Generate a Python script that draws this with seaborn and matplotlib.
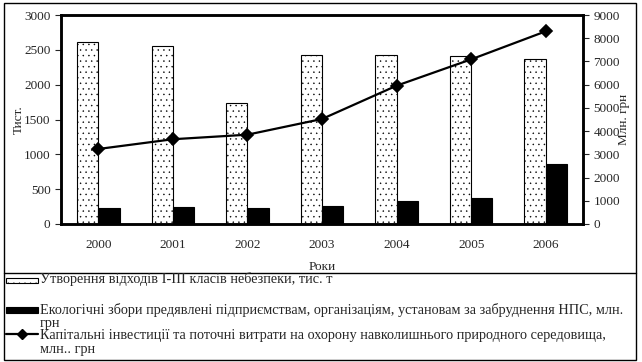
import numpy as np
import pandas as pd
import matplotlib
matplotlib.use("Agg")
import matplotlib.pyplot as plt
import seaborn as sns
from matplotlib.patches import Rectangle
from matplotlib.lines import Line2D

years = ["2000", "2001", "2002", "2003", "2004", "2005", "2006"]
waste = [2612, 2555, 1737, 2430, 2426, 2411, 2368]      # тис. т
fees = [230, 240, 230, 260, 330, 370, 860]              # млн. грн
invest = [3230, 3650, 3846, 4522, 5956, 7090, 8297]     # млн. грн

waste_lines = ["Утворення відходів I-III класів небезпеки, тис. т"]
fees_lines = ["Екологічні збори предявлені підприємствам, організаціям, установам за забруднення НПС, млн.",
              "грн"]
invest_lines = ["Капітальні інвестиції та поточні витрати на охорону навколишнього природного середовища,",
                "млн.. грн"]

sns.set_style("white")
plt.rcParams["font.family"] = ["Liberation Serif", "DejaVu Serif"]
plt.rcParams["hatch.linewidth"] = 0.3

df = pd.DataFrame({
    "year": years * 2,
    "value": waste + fees,
    "series": ["waste"] * 7 + ["fees"] * 7,
})
inv_df = pd.DataFrame({"year": years, "value": invest})

fig = plt.figure(figsize=(6.42, 3.62), dpi=100)
W, H = 642, 362


def fy(y):
    return 1 - y / H


# frame around the whole figure and legend box
fig.patches.append(Rectangle((4 / W, fy(360)), 632 / W, 357 / H, transform=fig.transFigure,
                             fill=False, edgecolor="black", linewidth=1))
fig.lines.append(Line2D([4 / W, 636 / W], [fy(273)] * 2, transform=fig.transFigure,
                        color="black", linewidth=1))

ax = fig.add_axes([61 / W, fy(224), 522 / W, 209 / H])
sns.barplot(data=df, x="year", y="value", hue="series", palette=["white", "black"],
            edgecolor="black", linewidth=0.8, width=0.57, legend=False, ax=ax)
for bar in ax.containers[0]:
    bar.set_hatch("...")

ax2 = ax.twinx()
sns.pointplot(data=inv_df, x="year", y="value", color="black", markers="D",
              markersize=6, linewidth=1.6, errorbar=None, ax=ax2)

for a in (ax, ax2):
    a.set_xlim(-0.5, 6.5)
    for s in a.spines.values():
        s.set_linewidth(1.8)
        s.set_color("black")

ax.set_ylim(0, 3000)
ax.set_yticks(range(0, 3001, 500))
ax2.set_ylim(0, 9000)
ax2.set_yticks(range(0, 9001, 1000))

ax.set_xticks(np.arange(-0.5, 7, 1))
ax.set_xticklabels([])
ax.set_xticks(range(7), minor=True)
ax.set_xticklabels(years, minor=True)
ax.tick_params(axis="x", which="major", direction="out", length=5, width=0.8, colors="black")
ax.tick_params(axis="x", which="minor", length=0, pad=11, labelsize=9.5)
ax.tick_params(axis="y", direction="out", length=4, width=0.8, labelsize=9.5, left=True)
ax2.tick_params(axis="y", direction="out", length=4, width=0.8, labelsize=9.5, right=True)
ax2.set_xlabel("")

ax.set_xlabel("Роки", fontsize=9.5)
ax.xaxis.set_label_coords(0.5, -0.175)
ax.set_ylabel("Тист.", fontsize=9.5)
ax.yaxis.set_label_coords(-0.07, 0.5)
ax2.set_ylabel("Млн. грн", fontsize=9.5, rotation=90)
ax2.yaxis.set_label_coords(1.068, 0.5)

# legend drawn by hand to match the wrapped layout
fig.patches.append(Rectangle((6 / W, fy(283)), 32 / W, 5 / H, transform=fig.transFigure,
                             facecolor="white", edgecolor="black", linewidth=0.8, hatch="..."))
fig.patches.append(Rectangle((6 / W, fy(313)), 32 / W, 6 / H, transform=fig.transFigure,
                             facecolor="black", edgecolor="black", linewidth=0.8))
fig.lines.append(Line2D([6 / W, 38 / W], [fy(334)] * 2, transform=fig.transFigure,
                        color="black", linewidth=1.6))
fig.lines.append(Line2D([22 / W], [fy(334)], transform=fig.transFigure, color="black",
                        marker="D", markersize=5))

for lines, ys in ((waste_lines, [279]), (fees_lines, [310, 323]), (invest_lines, [335, 350])):
    for txt, y in zip(lines, ys):
        fig.text(40 / W, fy(y), txt, fontsize=10.3, va="center", ha="left")

fig.savefig("out.png", dpi=100)
